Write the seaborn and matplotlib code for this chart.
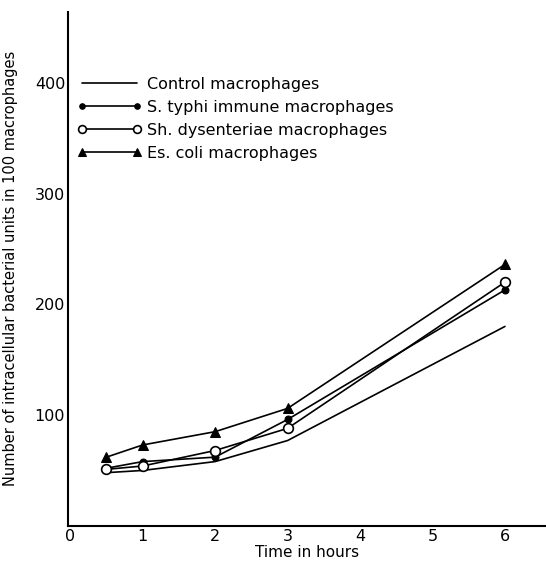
import matplotlib
matplotlib.use("Agg")
import matplotlib.pyplot as plt
import seaborn as sns
import pandas as pd

hours = [0.5, 1, 2, 3, 6]
control = [48, 50, 58, 77, 180]
s_typhi = [52, 58, 62, 96, 213]
sh_dysenteriae = [51, 54, 68, 88, 220]
es_coli = [62, 73, 85, 106, 236]

series_names = ["Control macrophages", "S. typhi immune macrophages",
                "Sh. dysenteriae macrophages", "Es. coli macrophages"]
x_ticks = [0, 1, 2, 3, 4, 5, 6]
y_ticks = [100, 200, 300, 400]

sns.set_style("white")
plt.rcParams['font.family'] = ['DejaVu Sans']
plt.rcParams['text.color'] = 'black'
plt.rcParams['axes.labelcolor'] = 'black'

fig = plt.figure(figsize=(5.46, 5.63), dpi=100)
ax = fig.add_axes([0.1245, 0.066, 0.876, 0.913])

styles = [
    dict(marker=None),
    dict(marker="o", markersize=5, markerfacecolor="black", markeredgecolor="black"),
    dict(marker="o", markersize=7, markerfacecolor="white", markeredgecolor="black", markeredgewidth=1.2),
    dict(marker="^", markersize=7, markerfacecolor="black", markeredgecolor="black"),
]
for name, vals, st in zip(series_names, [control, s_typhi, sh_dysenteriae, es_coli], styles):
    df = pd.DataFrame({"hours": hours, "value": vals})
    sns.lineplot(data=df, x="hours", y="value", ax=ax, color="black",
                 linewidth=1.2, label=name, **st)

ax.set_xlim(-0.03, 6.57)
ax.set_ylim(0, 464)
ax.set_xticks(x_ticks)
ax.set_yticks(y_ticks)
ax.set_xticklabels([str(t) for t in x_ticks], fontsize=11.5)
ax.set_yticklabels([str(t) for t in y_ticks], fontsize=11.5)
ax.tick_params(direction="in", length=6, width=1.2, colors="black", pad=2)
for side in ["top", "right"]:
    ax.spines[side].set_visible(False)
for side in ["left", "bottom"]:
    ax.spines[side].set_color("black")
    ax.spines[side].set_linewidth(1.5)

ax.set_xlabel("Time in hours", fontsize=11, labelpad=1)
ax.set_ylabel("Number of intracellular bacterial units in 100 macrophages", fontsize=10.5)
ax.yaxis.set_label_coords(-0.105, 0.5)

leg = ax.legend(loc="upper left", bbox_to_anchor=(-0.01, 0.902), frameon=False,
                numpoints=2, handlelength=4.0, fontsize=11.5, labelspacing=0.5,
                handletextpad=0.35, markerscale=0.8)

fig.savefig("out.png", dpi=100)
